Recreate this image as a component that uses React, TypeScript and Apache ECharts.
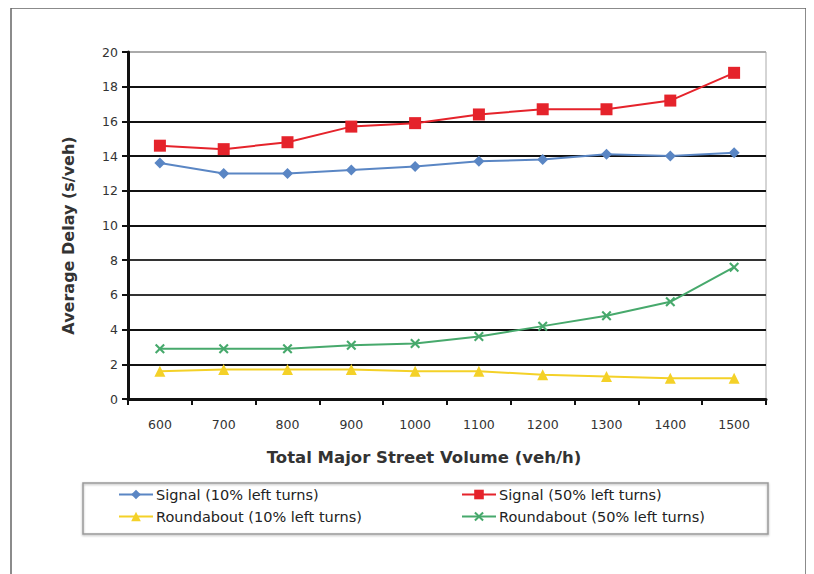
import React, { useEffect, useRef } from "react";
import * as echarts from "echarts";

const categories = ["600", "700", "800", "900", "1000", "1100", "1200", "1300", "1400", "1500"];
const signal10 = [13.6, 13.0, 13.0, 13.2, 13.4, 13.7, 13.8, 14.1, 14.0, 14.2];
const signal50 = [14.6, 14.4, 14.8, 15.7, 15.9, 16.4, 16.7, 16.7, 17.2, 18.8];
const round10 = [1.6, 1.7, 1.7, 1.7, 1.6, 1.6, 1.4, 1.3, 1.2, 1.2];
const round50 = [2.9, 2.9, 2.9, 3.1, 3.2, 3.6, 4.2, 4.8, 5.6, 7.6];
const seriesNames = [
  "Signal (10% left turns)",
  "Signal (50% left turns)",
  "Roundabout (10% left turns)",
  "Roundabout (50% left turns)",
];

const FONT = "'DejaVu Sans', Verdana, sans-serif";
const X_SYMBOL = "path://M0,1.5L1.5,0L5,3.5L8.5,0L10,1.5L6.5,5L10,8.5L8.5,10L5,6.5L1.5,10L0,8.5L3.5,5Z";

export default function App() {
  const ref = useRef<HTMLDivElement>(null);
  useEffect(() => {
    if (!ref.current) return;
    const chart = echarts.init(ref.current, undefined, { renderer: "svg" });
    const mk = (name: string, data: number[], color: string, symbol: string, size: number) => ({
      name,
      type: "line",
      data,
      symbol,
      symbolSize: size,
      lineStyle: { color, width: 2 },
      itemStyle: { color },
    });
    const legendBase = {
      itemWidth: 34,
      itemHeight: 12,
      itemGap: 4,
      textStyle: { fontFamily: FONT, fontSize: 14.5, color: "#222", padding: [0, 0, 0, -2] },
      padding: 0,
    };
    chart.setOption({
      animation: false,
      backgroundColor: "#fff",
      grid: {
        left: 120,
        right: 48,
        top: 44,
        bottom: 175,
        show: true,
        borderColor: "#aaa",
        borderWidth: 1,
      },
      xAxis: {
        type: "category",
        data: categories,
        boundaryGap: true,
        name: "Total Major Street Volume (veh/h)",
        nameLocation: "middle",
        nameGap: 50,
        nameTextStyle: { fontFamily: FONT, fontSize: 16.5, fontWeight: "bold", color: "#333", padding: [0, 46, 0, 0] },
        axisLine: { lineStyle: { color: "#111", width: 3 } },
        axisTick: { show: true, length: 6, lineStyle: { color: "#111", width: 2 }, alignWithLabel: false },
        axisLabel: { fontFamily: FONT, fontSize: 12.5, color: "#333", margin: 19 },
      },
      yAxis: {
        type: "value",
        min: 0,
        max: 20,
        interval: 2,
        name: "Average Delay (s/veh)",
        nameLocation: "middle",
        nameGap: 52,
        nameTextStyle: { fontFamily: FONT, fontSize: 16, fontWeight: "bold", color: "#333", padding: [0, 20, 0, 0] },
        axisLine: { show: true, lineStyle: { color: "#111", width: 3 } },
        axisTick: { show: true, length: 6, lineStyle: { color: "#111", width: 2 } },
        axisLabel: { fontFamily: FONT, fontSize: 12.5, color: "#333", margin: 10 },
        splitLine: {
          show: true,
          lineStyle: {
            color: ["#111", "#111", "#111", "#333", "#333", "#111", "#111", "#111", "#111", "#111", "#aaa"],
            width: 2,
          },
        },
      },
      legend: [
        { ...legendBase, data: [seriesNames[0]], left: 110, top: 479 },
        { ...legendBase, data: [seriesNames[1]], left: 453, top: 479 },
        { ...legendBase, data: [seriesNames[2]], left: 110, top: 501 },
        { ...legendBase, data: [seriesNames[3]], left: 453, top: 501 },
      ],
      graphic: [
        {
          type: "rect",
          shape: { x: 3, y: 0, width: 795, height: 580 },
          style: { fill: "none", stroke: "#666", lineWidth: 1.5 },
          z: -1,
        },
        {
          type: "rect",
          shape: { x: 75, y: 475, width: 685, height: 51 },
          style: { fill: "none", stroke: "#999", lineWidth: 1.5, shadowColor: "rgba(0,0,0,0.3)", shadowBlur: 2, shadowOffsetY: 1 },
          z: -1,
        },
      ],
      series: [
        mk(seriesNames[0], signal10, "#5a86c4", "diamond", 11),
        mk(seriesNames[1], signal50, "#e5232b", "rect", 12),
        mk(seriesNames[2], round10, "#f4d128", "triangle", 11),
        mk(seriesNames[3], round50, "#47a96c", X_SYMBOL, 10),
      ],
    });
    return () => chart.dispose();
  }, []);
  return <div ref={ref} style={{ width: 806, height: 566 }} />;
}
